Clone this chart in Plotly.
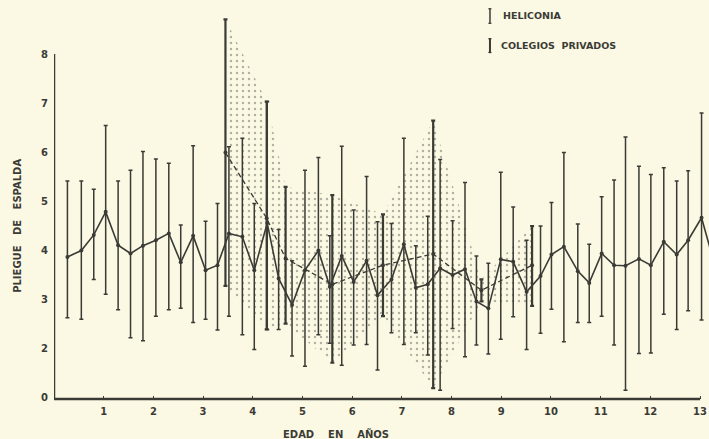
import plotly.graph_objects as go

# Heliconia: age (years), mean, low, high
heli_age = [0.27, 0.55, 0.80, 1.04, 1.29, 1.54, 1.79, 2.05, 2.31, 2.55, 2.80, 3.05, 3.29,
            3.52, 3.79, 4.03, 4.29, 4.52, 4.79, 5.05, 5.32, 5.55, 5.79, 6.03, 6.29, 6.51,
            6.79, 7.04, 7.28, 7.52, 7.77, 8.02, 8.27, 8.50, 8.74, 8.99, 9.24, 9.51, 9.79,
            10.01, 10.26, 10.54, 10.77, 11.02, 11.27, 11.50, 11.77, 12.01, 12.27, 12.53,
            12.76, 13.03, 13.28]
heli_mean = [3.86, 3.99, 4.31, 4.78, 4.10, 3.93, 4.09, 4.20, 4.34, 3.75, 4.29, 3.59, 3.69,
             4.34, 4.27, 3.59, 4.55, 3.42, 2.88, 3.59, 3.99, 3.25, 3.88, 3.35, 3.78, 3.08,
             3.40, 4.12, 3.23, 3.30, 3.63, 3.49, 3.61, 2.95, 2.81, 3.81, 3.76, 3.15, 3.47,
             3.91, 4.07, 3.57, 3.33, 3.93, 3.69, 3.68, 3.82, 3.69, 4.17, 3.91, 4.20, 4.66, 3.75]
heli_low = [2.62, 2.59, 3.40, 3.10, 2.78, 2.21, 2.15, 2.65, 2.78, 2.81, 2.52, 2.59, 2.37,
            2.65, 2.27, 1.97, 2.38, 2.38, 1.84, 1.63, 2.27, 2.10, 1.65, 2.06, 2.07, 1.55,
            2.31, 2.07, 2.31, 1.86, 1.14, 2.40, 1.82, 2.06, 1.88, 2.18, 2.64, 1.97, 2.30,
            2.79, 2.13, 2.52, 2.52, 2.65, 2.06, 1.14, 1.89, 1.90, 2.69, 2.38, 2.76, 2.57, 2.60]
heli_high = [5.41, 5.41, 5.24, 6.54, 5.41, 5.63, 6.01, 5.86, 5.77, 4.51, 6.13, 4.59, 4.95,
             6.11, 6.28, 4.95, 7.03, 4.42, 3.78, 5.63, 5.89, 4.29, 6.12, 4.82, 5.50, 4.58,
             4.54, 6.28, 4.09, 4.69, 5.85, 4.60, 5.38, 3.88, 3.73, 5.59, 4.88, 4.20, 4.49,
             4.97, 5.99, 4.53, 4.12, 5.09, 5.43, 6.31, 5.71, 5.54, 5.68, 5.41, 5.62, 6.80, 5.00]

# Colegios privados
priv_age = [3.45, 4.28, 4.66, 5.60, 6.62, 7.63, 8.60, 9.62]
priv_mean = [5.99, 4.65, 3.83, 3.30, 3.69, 3.92, 3.18, 3.69]
priv_low = [3.27, 2.38, 2.50, 1.70, 2.65, 1.18, 2.95, 2.86]
priv_high = [8.71, 7.03, 5.29, 5.12, 4.73, 6.64, 3.40, 4.49]

# broken axis: the bottom tick (labelled 0) sits at position 1
y_tickvals = [1, 2, 3, 4, 5, 6, 7, 8]
y_ticktext = ["0", "2", "3", "4", "5", "6", "7", "8"]
x_tickvals = [1, 2, 3, 4, 5, 6, 7, 8, 9, 10, 11, 12, 13]
x_ticktext = [str(v) for v in x_tickvals]

INK = "#3b3b36"
PAPER = "#fbf8e3"
FONT = "DejaVu Sans"

fig = go.Figure()

# dotted envelope of Colegios privados
fig.add_trace(go.Scatter(
    x=priv_age + priv_age[::-1],
    y=priv_high + priv_low[::-1],
    mode="none", fill="toself", fillcolor="rgba(0,0,0,0)",
    fillpattern=dict(shape=".", fgcolor="#6a6a60", bgcolor="rgba(0,0,0,0)",
                     size=6, solidity=0.13),
    hoverinfo="skip", showlegend=False))

# Heliconia
fig.add_trace(go.Scatter(
    x=heli_age, y=heli_mean, mode="lines+markers",
    line=dict(color=INK, width=1.6),
    marker=dict(color=INK, size=4),
    error_y=dict(type="data", symmetric=False,
                 array=[h - m for h, m in zip(heli_high, heli_mean)],
                 arrayminus=[m - l for m, l in zip(heli_mean, heli_low)],
                 color=INK, thickness=1.5, width=2),
    name="HELICONIA", showlegend=False))

# Colegios privados
fig.add_trace(go.Scatter(
    x=priv_age, y=priv_mean, mode="lines+markers",
    line=dict(color=INK, width=1.3, dash="5px,3px"),
    marker=dict(color=INK, size=4),
    error_y=dict(type="data", symmetric=False,
                 array=[h - m for h, m in zip(priv_high, priv_mean)],
                 arrayminus=[m - l for m, l in zip(priv_mean, priv_low)],
                 color=INK, thickness=2.2, width=2),
    name="COLEGIOS PRIVADOS", showlegend=False))

Y0 = 0.96
TF = dict(size=10, family=FONT, weight="bold", color=INK)
fig.update_layout(
    width=709, height=439,
    margin=dict(l=54, r=0, t=10, b=40, autoexpand=False),
    paper_bgcolor=PAPER, plot_bgcolor=PAPER,
    font=dict(family=FONT, color=INK),
    xaxis=dict(range=[0, 13.18], showgrid=False, zeroline=False, showline=False,
               automargin=False,
               tickvals=x_tickvals, ticktext=x_ticktext, ticks="inside", ticklen=3,
               tickcolor=INK, tickfont=TF, ticklabelstandoff=5),
    yaxis=dict(range=[Y0, 8.90], showgrid=False, zeroline=False, showline=False,
               automargin=False,
               tickvals=y_tickvals, ticktext=y_ticktext, ticks="",
               tickfont=TF, ticklabelstandoff=5),
    shapes=[
        dict(type="line", xref="x", yref="paper", x0=0, x1=13, y0=0, y1=0,
             line=dict(color=INK, width=2.5)),
        dict(type="line", xref="x", yref="y", x0=0, x1=0, y0=Y0, y1=8,
             line=dict(color=INK, width=2.5)),
        # legend glyphs
        dict(type="line", xref="paper", yref="paper", x0=0.6656, x1=0.6656, y0=0.964, y1=1.005,
             line=dict(color=INK, width=1.5)),
        dict(type="line", xref="paper", yref="paper", x0=0.663, x1=0.668, y0=1.003, y1=1.003,
             line=dict(color=INK, width=1)),
        dict(type="line", xref="paper", yref="paper", x0=0.663, x1=0.668, y0=0.966, y1=0.966,
             line=dict(color=INK, width=1)),
        dict(type="line", xref="paper", yref="paper", x0=0.6656, x1=0.6656, y0=0.889, y1=0.928,
             line=dict(color=INK, width=2)),
        dict(type="line", xref="paper", yref="paper", x0=0.663, x1=0.668, y0=0.926, y1=0.926,
             line=dict(color=INK, width=1)),
        dict(type="line", xref="paper", yref="paper", x0=0.663, x1=0.668, y0=0.891, y1=0.891,
             line=dict(color=INK, width=1)),
    ],
    annotations=[
        dict(text="HELICONIA", xref="paper", yref="paper", x=0.683, y=0.987,
             xanchor="left", yanchor="middle", showarrow=False,
             font=dict(size=9.5, family=FONT, weight="bold", color=INK)),
        dict(text="COLEGIOS  PRIVADOS", xref="paper", yref="paper", x=0.680, y=0.910,
             xanchor="left", yanchor="middle", showarrow=False,
             font=dict(size=9.5, family=FONT, weight="bold", color=INK)),
        dict(text="EDAD    EN    AÑOS", xref="paper", yref="paper", x=0.43, y=-0.09,
             xanchor="center", yanchor="middle", showarrow=False,
             font=dict(size=10, family=FONT, weight="bold", color=INK)),
        dict(text="PLIEGUE   DE   ESPALDA", xref="paper", yref="paper", x=-0.055, y=0.445,
             xanchor="center", yanchor="middle", showarrow=False, textangle=-90,
             font=dict(size=10, family=FONT, weight="bold", color=INK)),
    ],
)

fig.write_html(
    "out.html",
    config={"displayModeBar": False},
    post_script="document.body.style.margin='0';document.body.style.background='#fbf8e3';",
)
